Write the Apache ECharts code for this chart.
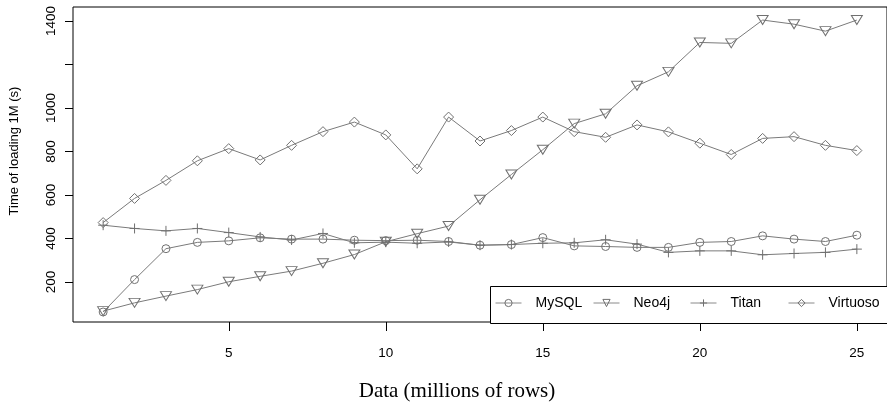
<!DOCTYPE html>
<html>
<head>
<meta charset="utf-8">
<script src="https://cdn.jsdelivr.net/npm/echarts@6/dist/echarts.min.js"></script>
<style>html,body{margin:0;padding:0;background:#fff;}#c{width:887px;height:405px;}</style>
</head>
<body>
<div id="c"></div>
<script>
const xValues = [1,2,3,4,5,6,7,8,9,10,11,12,13,14,15,16,17,18,19,20,21,22,23,24,25];
const mysql    = [62,211,353,382,389,403,397,397,392,390,392,386,369,372,404,366,363,359,359,382,386,412,397,386,415];
const neo4j    = [66,104,135,165,201,226,250,286,326,385,422,457,578,694,808,928,973,1102,1166,1301,1297,1404,1385,1353,1404];
const titan    = [461,446,435,446,427,407,393,423,380,383,378,384,369,372,378,380,394,374,336,343,343,325,331,336,351];
const virtuoso = [473,584,667,757,813,761,828,891,935,876,720,958,848,896,958,891,865,922,890,838,786,860,868,828,804];
const xTicks = [5,10,15,20,25];
const yTicks = [200,400,600,800,1000,1200,1400];
const yTickLabels = [200,400,600,800,1000,1400];
const seriesNames = ['MySQL','Neo4j','Titan','Virtuoso'];

const GRAY = '#707070';
const sans = 'Liberation Sans, Arial, sans-serif';
function pairs(arr){ return xValues.map((x,i)=>[x,arr[i]]); }
function mk(name, data, symbol, size, rot){
  return {
    name, type:'line', data:pairs(data), symbol, symbolSize:size, symbolRotate:rot||0,
    showSymbol:true, animation:false,
    lineStyle:{color:'#7a7a7a',width:1},
    itemStyle:{color:'rgba(0,0,0,0)',borderColor:GRAY,borderWidth:1},
    emphasis:{disabled:true}
  };
}
const legendLefts = [495, 593, 690, 788];
const legends = seriesNames.map((n,i)=>({
  left:legendLefts[i], top:296, itemWidth:26, itemHeight:9, padding:0, z:10,
  itemStyle:{color:'rgba(0,0,0,0)', borderColor:GRAY, borderWidth:1},
  lineStyle:{color:'#8a8a8a', width:1},
  textStyle:{fontSize:14, fontFamily:sans, color:'#000', padding:[0,0,0,9]},
  data:[n]
}));
const chart = echarts.init(document.getElementById('c'), null, {renderer:'canvas'});
chart.setOption({
  animation:false,
  grid:{left:73, top:7, width:816, height:315, show:true, borderColor:'#000', borderWidth:1, backgroundColor:'transparent'},
  xAxis:{type:'value', min:0.04, max:25.96,
    axisLine:{show:false},
    axisTick:{show:true, length:9, lineStyle:{color:'#000'}, customValues:xTicks},
    axisLabel:{show:true, customValues:xTicks, fontSize:13.5, fontFamily:sans, color:'#000', margin:24, formatter:v=>String(v)},
    splitLine:{show:false}},
  yAxis:{type:'value', min:16, max:1464,
    axisLine:{show:false},
    axisTick:{show:true, length:8, lineStyle:{color:'#000'}, customValues:yTicks},
    axisLabel:{show:true, customValues:yTickLabels, rotate:90, fontSize:13.5, fontFamily:sans, color:'#000', margin:15, formatter:v=>String(v)},
    splitLine:{show:false}},
  legend:legends,
  graphic:[
    {type:'rect', shape:{x:490.5, y:286.5, width:420, height:37}, style:{fill:'#fff', stroke:'#000', lineWidth:1}, z:3},
    {type:'text', x:14, y:151, rotation:Math.PI/2, style:{text:'Time of loading 1M (s)', font:'13px Liberation Sans', fill:'#000', textAlign:'center', textVerticalAlign:'middle'}},
    {type:'text', x:457, y:391, style:{text:'Data (millions of rows)', font:'21px Liberation Serif', fill:'#000', textAlign:'center', textVerticalAlign:'middle'}}
  ],
  series:[
    mk('MySQL', mysql, 'circle', 8),
    mk('Neo4j', neo4j, 'triangle', [11,9], 180),
    mk('Titan', titan, 'path://M0,5L10,5M5,0L5,10', 10),
    mk('Virtuoso', virtuoso, 'diamond', 10)
  ]
});
</script>
</body>
</html>
